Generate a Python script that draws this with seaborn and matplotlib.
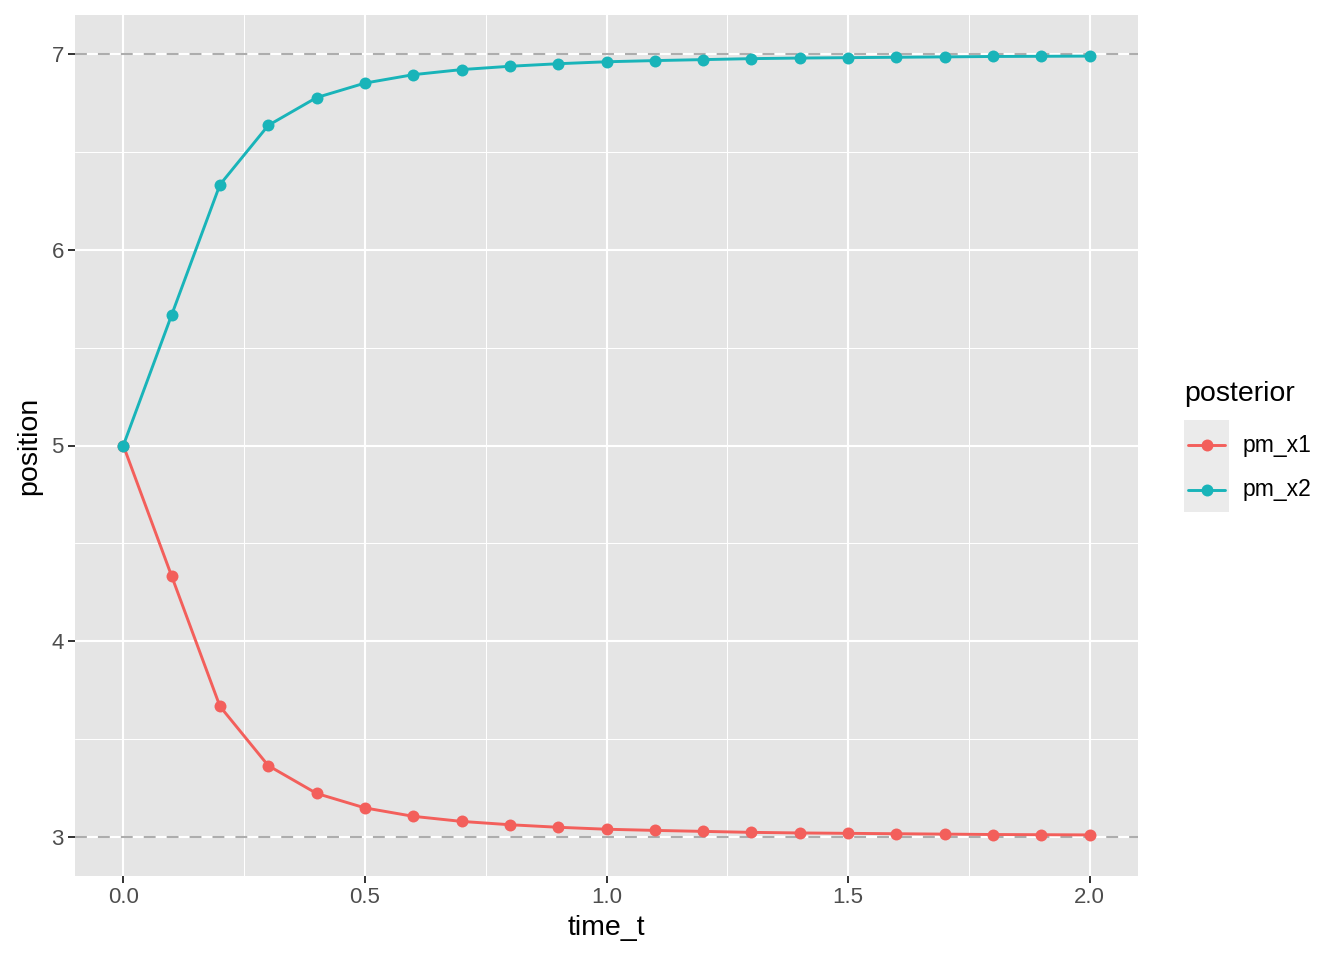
import matplotlib
matplotlib.use("Agg")
import matplotlib.pyplot as plt
import seaborn as sns
import pandas as pd
import numpy as np
from matplotlib.lines import Line2D
from matplotlib.patches import Rectangle

time_t = [0.0, 0.1, 0.2, 0.3, 0.4, 0.5, 0.6, 0.7, 0.8, 0.9, 1.0,
          1.1, 1.2, 1.3, 1.4, 1.5, 1.6, 1.7, 1.8, 1.9, 2.0]
pm_x1 = [5.000, 4.333, 3.667, 3.364, 3.222, 3.148, 3.105, 3.079, 3.062, 3.049, 3.039,
         3.033, 3.028, 3.023, 3.020, 3.018, 3.016, 3.014, 3.012, 3.011, 3.010]
pm_x2 = [5.000, 5.667, 6.333, 6.636, 6.778, 6.852, 6.895, 6.921, 6.938, 6.951, 6.961,
         6.967, 6.972, 6.977, 6.980, 6.982, 6.984, 6.986, 6.988, 6.989, 6.990]
series_names = ["pm_x1", "pm_x2"]
colors = ["#F35F5B", "#19B4B9"]
ref_lines = [3, 7]
x_ticks = [0.0, 0.5, 1.0, 1.5, 2.0]
x_tick_labels = ["0.0", "0.5", "1.0", "1.5", "2.0"]
y_ticks = [3, 4, 5, 6, 7]

df = pd.DataFrame({
    "time_t": time_t * 2,
    "position": pm_x1 + pm_x2,
    "posterior": ["pm_x1"] * len(time_t) + ["pm_x2"] * len(time_t),
})

sns.set_theme(style="darkgrid")
plt.rcParams["font.family"] = ["Liberation Sans", "DejaVu Sans"]
plt.rcParams["xtick.bottom"] = True
plt.rcParams["ytick.left"] = True

W, H = 1344, 960
fig = plt.figure(figsize=(W / 100, H / 100), dpi=100)
ax = fig.add_axes([75 / W, (H - 876) / H, (1138 - 75) / W, (876 - 15) / H])
ax.set_facecolor("#E5E5E5")

for v in ref_lines:
    ax.axhline(v, color="#ADADAD", lw=1.5, ls=(0, (5.7, 5.3)), zorder=1.5)

sns.lineplot(data=df, x="time_t", y="position", hue="posterior",
             palette=dict(zip(series_names, colors)), marker="o",
             markersize=8.6, markeredgewidth=0, linewidth=2.1, ax=ax,
             legend=False, zorder=3)

ax.set_xlim(-0.1, 2.1)
ax.set_ylim(2.8, 7.2)
ax.set_xticks(x_ticks)
ax.set_xticklabels(x_tick_labels)
ax.set_yticks(y_ticks)
ax.set_xticks([0.25, 0.75, 1.25, 1.75], minor=True)
ax.set_yticks([3.5, 4.5, 5.5, 6.5], minor=True)
ax.grid(which="major", color="white", lw=1.5)
ax.grid(which="minor", color="white", lw=0.75)
ax.set_axisbelow(True)
for s in ax.spines.values():
    s.set_visible(False)
ax.tick_params(which="major", length=5, width=1.4, color="#333333",
               labelsize=16, labelcolor="#4D4D4D", pad=3, bottom=True, left=True)
ax.tick_params(which="minor", length=0, bottom=False, left=False)
ax.set_xlabel("time_t", fontsize=20.5, color="black", labelpad=5)
ax.set_ylabel("position", fontsize=20.5, color="black", labelpad=7)

# legend
fig.text(1184 / W, 1 - 394 / H, "posterior", fontsize=20.5, ha="left", va="center",
         color="black")
fig.patches.append(Rectangle((1184 / W, 1 - 512 / H), 45 / W, 92 / H,
                             transform=fig.transFigure, facecolor="#EBEBEB",
                             edgecolor="none", figure=fig))
for i, (name, c) in enumerate(zip(series_names, colors)):
    yc = 1 - (445 + 45 * i) / H
    fig.lines.append(Line2D([1188 / W, 1225 / W], [yc, yc], transform=fig.transFigure,
                            color=c, lw=2.1, marker=None, figure=fig))
    fig.lines.append(Line2D([1206.5 / W], [yc], transform=fig.transFigure,
                            color=c, marker="o", markersize=8.6, markeredgewidth=0, figure=fig))
    fig.text(1243 / W, yc, name, fontsize=16.5, ha="left", va="center", color="black")

fig.savefig("out.png", dpi=100)
